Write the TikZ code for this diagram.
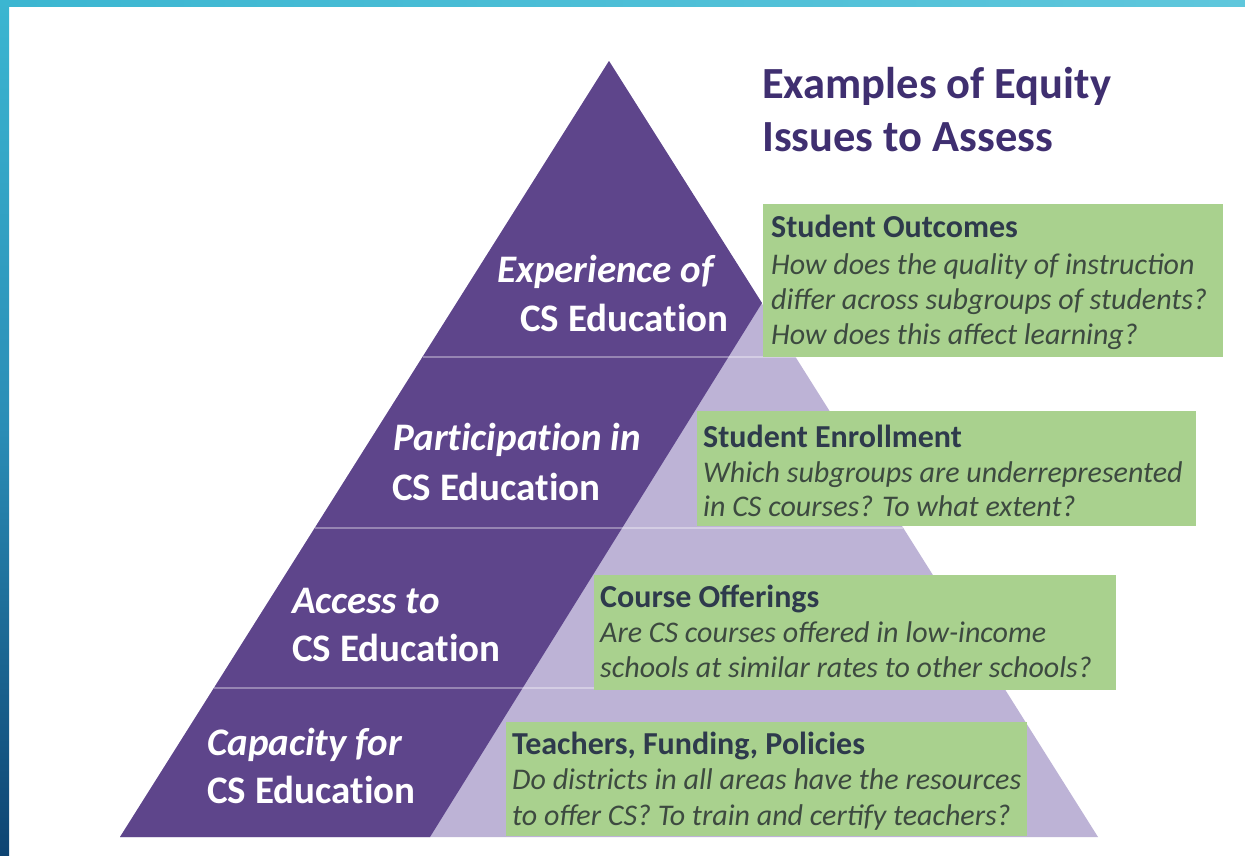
\documentclass[tikz,border=0pt]{standalone}
\usepackage{fontspec}
\setmainfont{Carlito}
\newfontfamily\lblfont[Ligatures={NoCommon,NoRequired,NoContextual},Contextuals=NoAlternate]{Carlito}
\definecolor{darkpurple}{HTML}{5E458B}
\definecolor{lightpurple}{HTML}{BDB3D6}
\definecolor{boxgreen}{HTML}{A9D18E}
\definecolor{titlepurple}{HTML}{3F2F70}
\definecolor{boxtitle}{HTML}{2E3A4C}
\definecolor{boxtext}{HTML}{3D4A40}
\definecolor{stripA}{HTML}{3BB6D1}
\definecolor{stripB}{HTML}{5FC7DC}
\definecolor{stripC}{HTML}{2A8DB6}
\definecolor{stripD}{HTML}{0E4472}
\tikzset{
  lbl/.style={anchor=base west, inner sep=0pt, text=white, font=\lblfont\bfseries\fontsize{39}{44}\selectfont},
  lbli/.style={lbl, font=\lblfont\bfseries\itshape\fontsize{39}{44}\selectfont},
  ttl/.style={anchor=base west, inner sep=0pt, text=titlepurple, font=\bfseries\fontsize{44.5}{50}\selectfont},
  bhead/.style={anchor=base west, inner sep=0pt, text=boxtitle, font=\bfseries\fontsize{32}{36}\selectfont},
  bline/.style={anchor=base west, inner sep=0pt, text=boxtext, font=\itshape\fontsize{30}{34}\selectfont},
  gbox/.style={fill=boxgreen},
  band/.style={draw=white, draw opacity=0.35, line width=1.5pt}
}
\begin{document}
\begin{tikzpicture}[x=1pt,y=-1pt]
\useasboundingbox (0,0) rectangle (1245,855);
\fill[white] (0,0) rectangle (1245,855);
% edge strips
\shade[left color=stripA, right color=stripB] (0,0) rectangle (1245,6);
\shade[top color=stripA, bottom color=stripD, middle color=stripC] (0,0) rectangle (9,855);
% pyramid
\fill[lightpurple] (609,61) -- (1098,837) -- (120,837) -- cycle;
\fill[darkpurple] (609,61) -- (762,303) -- (430,837) -- (120,837) -- cycle;
\draw[band] (422.5,357) -- (795.5,357);
\draw[band] (314.7,528) -- (903.3,528);
\draw[band] (213.9,688) -- (1004.1,688);
% title
\node[ttl] (t1) at (762,98) {Examples of Equity};
\node[ttl] (t2) at (762,151) {Issues to Assess};
% pyramid labels
\node[lbli] (e1) at (497,282) {Experience of};
\node[lbl]  (e2) at (520,331) {CS Educa\kern0pt tion};
\node[lbli] (p1) at (393,450) {Participa\kern0pt tion in};
\node[lbl]  (p2) at (392,500) {CS Educa\kern0pt tion};
\node[lbli] (a1) at (292,613) {Access to};
\node[lbl]  (a2) at (292,661) {CS Educa\kern0pt tion};
\node[lbli] (c1) at (207,755) {Capacity for};
\node[lbl]  (c2) at (207,803) {CS Educa\kern0pt tion};
% green boxes
\fill[gbox] (763,204) rectangle (1223,357);
\node[bhead] (b1h) at (771,237) {Student Outcomes};
\node[bline] (b1a) at (771,274) {How does the quality of instruc\kern0pt tion};
\node[bline] (b1b) at (771,309) {differ across subgroups of students?};
\node[bline] (b1c) at (771,344) {How does this affect learning?};
\fill[gbox] (697,411) rectangle (1196,526);
\node[bhead] (b2h) at (703,447) {Student Enrollment};
\node[bline] (b2a) at (703,482) {Which subgroups are underrepresented};
\node[bline] (b2b) at (703,516) {in CS courses? To what extent?};
\fill[gbox] (594,575) rectangle (1116,690);
\node[bhead] (b3h) at (600,607) {Course Offerings};
\node[bline] (b3a) at (600,642) {Are CS courses offered in low-income};
\node[bline] (b3b) at (600,677) {schools at similar rates to other schools?};
\fill[gbox] (506,722) rectangle (1027,836);
\node[bhead] (b4h) at (512,754) {Teachers, Funding, Policies};
\node[bline] (b4a) at (512,789) {Do districts in all areas have the resources};
\node[bline] (b4b) at (512,825) {to offer CS? To train and certify teachers?};
\end{tikzpicture}
\end{document}
